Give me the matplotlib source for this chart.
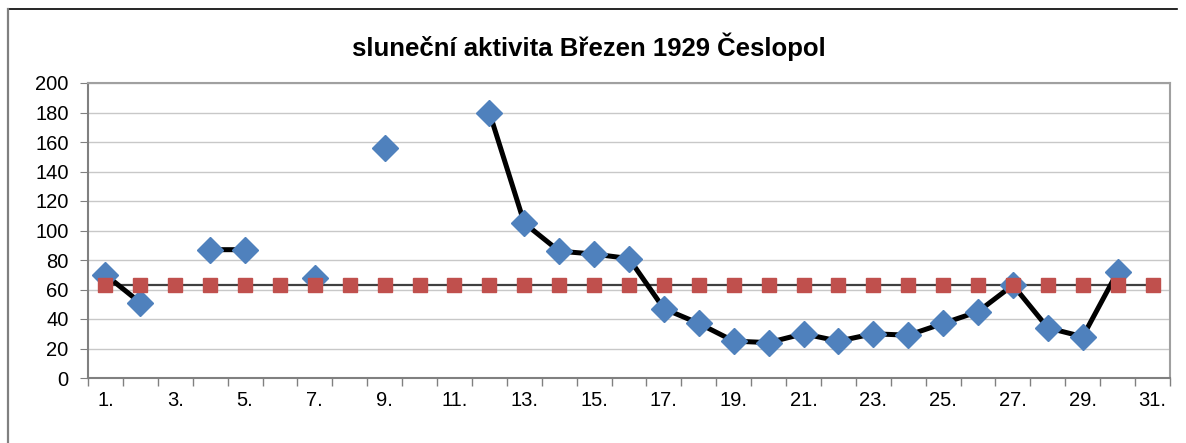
import matplotlib.pyplot as plt
import numpy as np
from matplotlib.lines import Line2D

plt.rcParams['font.family'] = ['Liberation Sans', 'DejaVu Sans']

days = list(range(1, 32))
# nan = no observation that day
activity = [70, 51, np.nan, 87, 87, np.nan, 68, np.nan, 156, np.nan,
            np.nan, 180, 105, 86, 84, 81, 47, 37, 25, 24,
            30, 25, 30, 29, 37, 45, 63, 34, 28, 72, np.nan]
mean_value = [63] * 31
tick_labels = [f"{d}." for d in days]

W, H = 1186, 443
fig = plt.figure(figsize=(W / 100, H / 100), dpi=100)
ax = fig.add_axes([88 / W, 1 - 378 / H, (1170 - 88) / W, (378 - 83) / H])

x = np.arange(len(days))
# mean line under everything, its squares on top
ax.plot(x, mean_value, color='#404040', lw=1.6, zorder=2)
ax.plot(x, activity, color='black', lw=3.6, marker='D', ms=13,
        mfc='#4F81BD', mec='#4F81BD', zorder=3)
ax.plot(x, mean_value, ls='none', marker='s', ms=10.5,
        mfc='#C0504D', mec='#C0504D', zorder=4)

ax.set_xlim(-0.5, len(days) - 0.5)
ax.set_ylim(0, 200)
ax.set_yticks(range(0, 201, 20))
ax.set_xticks(x[::2])
ax.set_xticklabels(tick_labels[::2])
ax.set_xticks(np.arange(-0.5, len(days), 1), minor=True)
ax.tick_params(axis='x', which='major', length=0, labelsize=14.5, pad=9)
ax.tick_params(axis='x', which='minor', length=6, color='#808080', width=1)
ax.tick_params(axis='y', labelsize=14.5, length=6, color='#808080', pad=8)
ax.grid(axis='y', color='#C8C8C8', lw=1)
ax.set_axisbelow(True)
for side in ['top', 'right']:
    ax.spines[side].set_color('#A0A0A0')
    ax.spines[side].set_linewidth(1.5)
for side in ['left', 'bottom']:
    ax.spines[side].set_color('#808080')
    ax.spines[side].set_linewidth(1.5)

fig.text(589 / W, 1 - 47 / H, "sluneční aktivita Březen 1929 Česlopol",
         ha='center', va='center', fontsize=18.5, fontweight='bold')

# outer frame: black top edge, gray left edge
fig.lines.append(Line2D([8 / W, 1177 / W], [1 - 9 / H, 1 - 9 / H],
                        transform=fig.transFigure, color='black', lw=1.2))
fig.lines.append(Line2D([8 / W, 8 / W], [0, 1 - 9 / H],
                        transform=fig.transFigure, color='#808080', lw=1.6))

plt.savefig('out.png', dpi=100)
